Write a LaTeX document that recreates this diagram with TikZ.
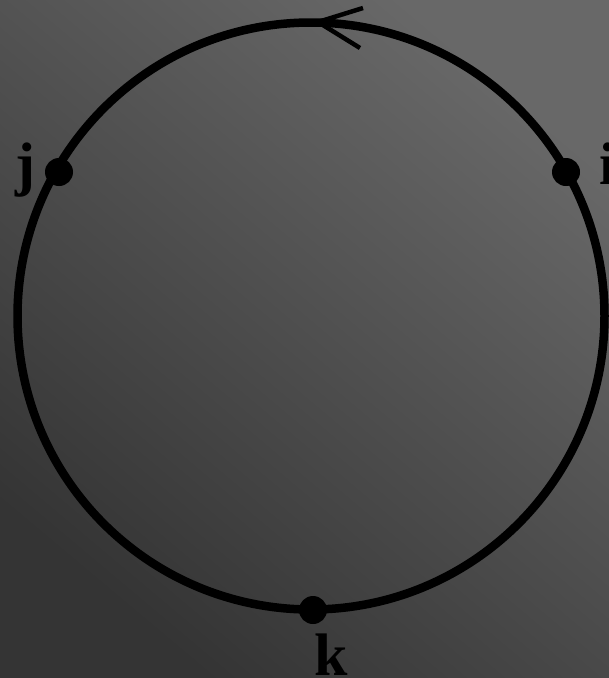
\documentclass[tikz,border=0pt]{standalone}
\usepackage{fontspec}
\setmainfont{Liberation Serif}
\begin{document}
\begin{tikzpicture}[x=1pt,y=-1pt,
  ring/.style={draw=black,line width=8.5pt},
  dot/.style={circle,fill=black,inner sep=0pt,minimum size=28pt},
  lbl/.style={font=\fontsize{60}{60}\selectfont\bfseries,text=black,inner sep=0pt,anchor=base},
  chev/.style={draw=black,line width=4.5pt}]
\useasboundingbox (0,0) rectangle (609,678);
\shade[top color={rgb,255:red,104;green,104;blue,104},bottom color={rgb,255:red,52;green,52;blue,52},shading angle=-40] (0,0) rectangle (609,678);
\node[circle,ring,minimum size=587pt,inner sep=0pt] (C) at (311,316) {};
\node[dot] (j) at (59,172) {};
\node[dot] (i) at (566,172) {};
\node[dot] (k) at (313,610) {};
\node[lbl] (lj) at (25,184) {j};
\node[lbl] (li) at (608,184) {i};
\node[lbl] (lk) at (331,675) {k};
\coordinate (t) at (318,22);
\coordinate (a1) at (363,8);
\coordinate (a2) at (360,48);
\draw[chev] (a1) -- (t) -- (a2);
\end{tikzpicture}
\end{document}
